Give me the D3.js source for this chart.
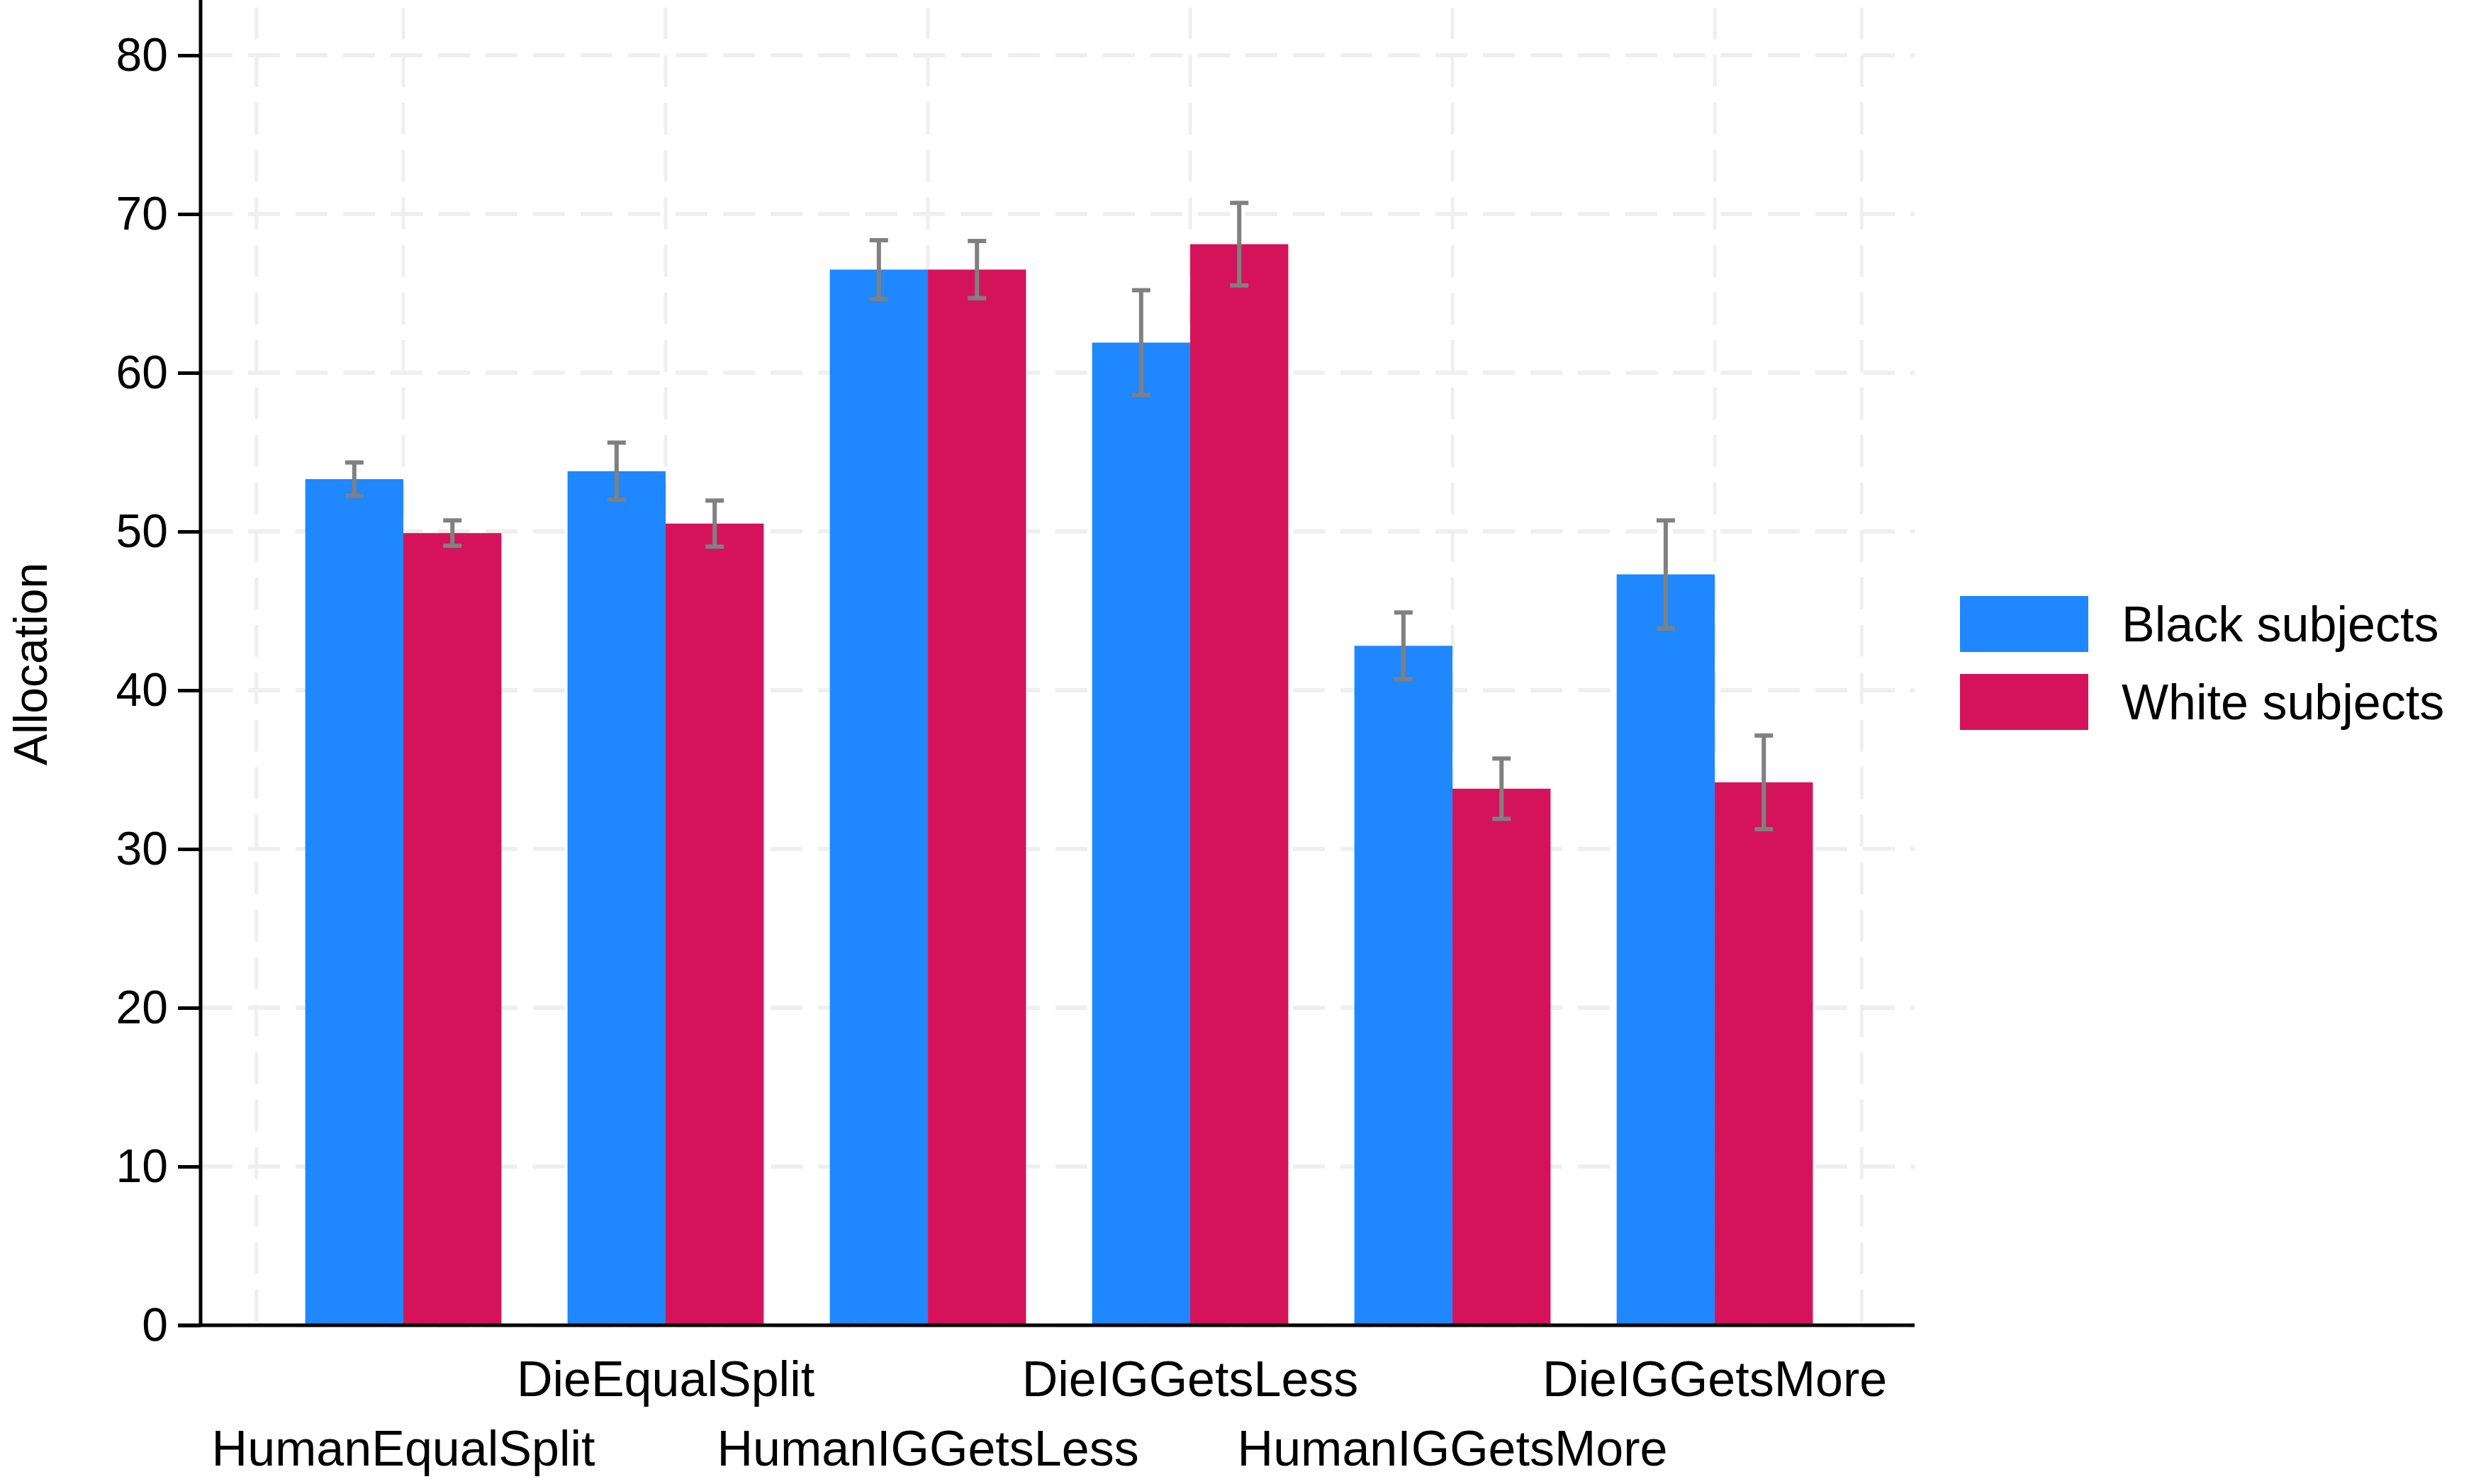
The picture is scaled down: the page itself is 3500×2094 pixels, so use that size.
<!DOCTYPE html>
<html><head><meta charset="utf-8">
<script src="https://cdn.jsdelivr.net/npm/d3@7"></script>
<style>body{margin:0;background:#fff}text{font-family:"Liberation Sans",Arial,sans-serif}</style>
</head><body><svg id="c" width="3500" height="2094"></svg>
<script>
const categories=["HumanEqualSplit","DieEqualSplit","HumanIGGetsLess","DieIGGetsLess","HumanIGGetsMore","DieIGGetsMore"];
const series=["Black subjects","White subjects"];
const black=[53.3,53.8,66.5,61.9,42.8,47.3];
const white=[49.9,50.5,66.5,68.1,33.8,34.2];
const blackErr=[1.05,1.8,1.85,3.3,2.1,3.4];
const whiteErr=[0.8,1.45,1.8,2.6,1.9,2.95];
const yTicks=[0,10,20,30,40,50,60,70,80];
const colors=["#1F87FF","#D5135A"];

const svg=d3.select("#c");
const y=d3.scaleLinear().domain([0,80]).range([1870,78]);
const x=d3.scaleLinear().domain([-0.773,5.762]).range([283,2701]);
const bw=x(0.374)-x(0);
const gx=[-0.56,0,1,2,3,4,5,5.56];
// grid
svg.append("g").selectAll("line").data(yTicks).join("line")
 .attr("x1",283).attr("x2",2701).attr("y1",d=>y(d)).attr("y2",d=>y(d))
 .attr("stroke","#efefef").attr("stroke-width",6).attr("stroke-dasharray","45,22");
svg.append("g").selectAll("line").data(gx).join("line")
 .attr("x1",d=>x(d)).attr("x2",d=>x(d)).attr("y1",y(83)).attr("y2",y(0))
 .attr("stroke","#efefef").attr("stroke-width",5).attr("stroke-dasharray","45,22");
// bars
[black,white].forEach((vals,s)=>{
 svg.append("g").selectAll("rect").data(vals).join("rect")
  .attr("x",(d,i)=>x(i)+(s-1)*bw).attr("width",bw)
  .attr("y",d=>y(d)).attr("height",d=>y(0)-y(d)).attr("fill",colors[s]);
});
// error bars
[[black,blackErr],[white,whiteErr]].forEach(([vals,errs],s)=>{
 const g=svg.append("g").attr("stroke","#808080").attr("stroke-width",6).attr("fill","none");
 vals.forEach((v,i)=>{
  const cx=x(i)+(s-0.5)*bw, lo=y(v-errs[i]), hi=y(v+errs[i]);
  g.append("line").attr("x1",cx).attr("x2",cx).attr("y1",lo).attr("y2",hi);
  g.append("line").attr("x1",cx-13).attr("x2",cx+13).attr("y1",lo).attr("y2",lo);
  g.append("line").attr("x1",cx-13).attr("x2",cx+13).attr("y1",hi).attr("y2",hi);
 });
});
// axes
const ya=svg.append("g").attr("transform","translate(283,0)")
 .call(d3.axisLeft(y).tickValues(yTicks).tickSize(32).tickPadding(14));
ya.select(".domain").remove();
ya.selectAll(".tick line").attr("stroke","#000").attr("stroke-width",5);
ya.selectAll("text").attr("font-size",66).attr("fill","#000");
svg.append("line").attr("x1",283).attr("x2",283).attr("y1",0).attr("y2",1872).attr("stroke","#000").attr("stroke-width",5);
svg.append("line").attr("x1",251).attr("x2",2701).attr("y1",1870).attr("y2",1870).attr("stroke","#000").attr("stroke-width",5);
// x labels staggered
svg.append("g").selectAll("text").data(categories).join("text")
 .attr("x",(d,i)=>x(i)).attr("y",(d,i)=>i%2?1970:2068)
 .attr("text-anchor","middle").attr("font-size",70).text(d=>d);
// y title
svg.append("text").attr("transform","translate(66,937) rotate(-90)")
 .attr("text-anchor","middle").attr("font-size",66).text("Allocation");
// legend
const lg=svg.append("g");
series.forEach((s,i)=>{
 lg.append("rect").attr("x",2765).attr("y",841+i*110).attr("width",181).attr("height",79).attr("fill",colors[i]);
 lg.append("text").attr("x",2993).attr("y",905+i*110).attr("font-size",70).text(s);
});
</script></body></html>
